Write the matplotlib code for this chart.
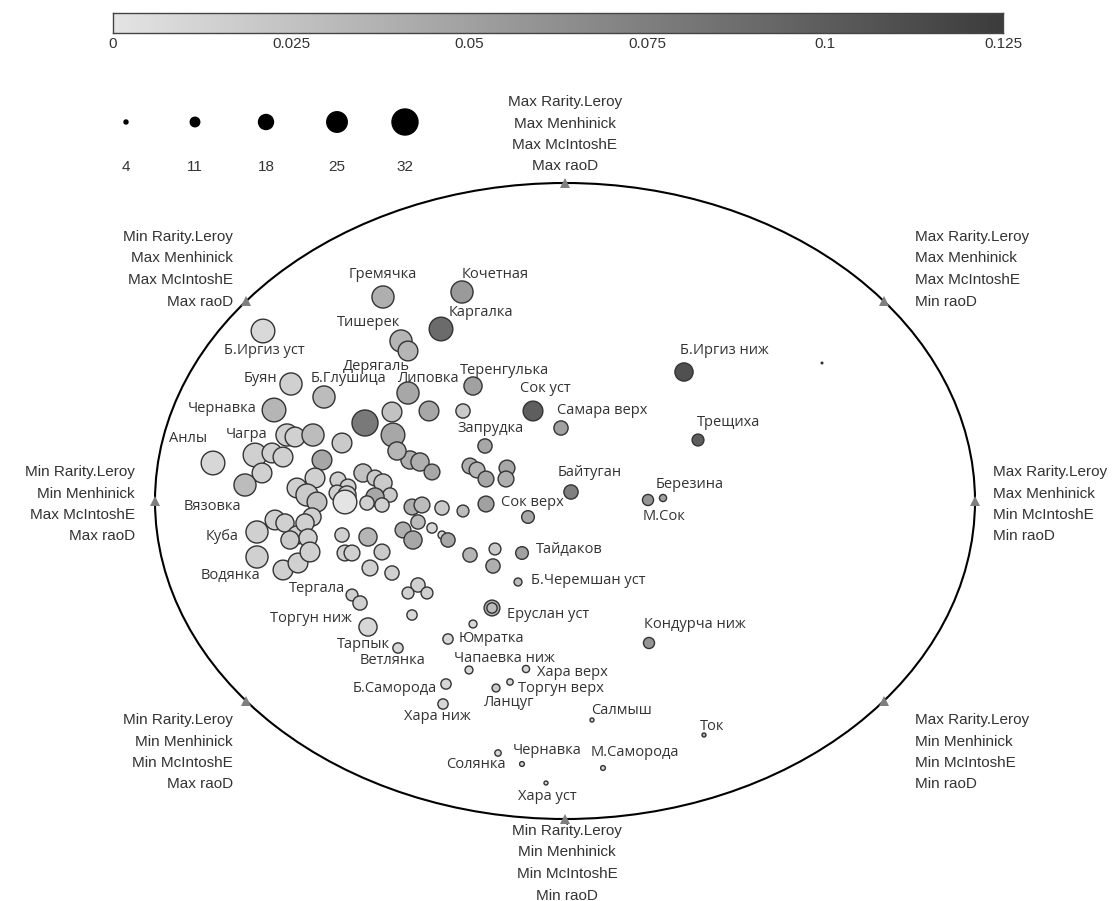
import numpy as np
import matplotlib
matplotlib.use("Agg")
import matplotlib.pyplot as plt
from matplotlib.patches import Ellipse
from matplotlib.colors import LinearSegmentedColormap, Normalize

# ---- data (page-like units: x right, y down) ----
# site points: x, y, species count (size), rarity value (colour)
pt_x = [383, 462, 441, 401, 408, 263, 291, 324, 408, 429, 392, 365, 393, 274, 473,
        463, 533, 561, 485, 698, 684, 822, 571, 648, 663, 486, 528, 522, 495, 493,
        470, 518, 492, 492, 470, 477, 486, 507, 506, 463, 442, 412, 422, 403, 418,
        432, 442, 448, 410, 420, 432, 397, 287, 295, 313, 342, 255, 272, 283, 322,
        262, 245, 315, 297, 307, 317, 312, 338, 348, 337, 347, 345, 363, 375, 383,
        390, 375, 367, 382, 257, 275, 285, 297, 305, 308, 290, 257, 283, 298, 310,
        342, 345, 352, 368, 382, 370, 392, 413, 418, 408, 427, 352, 360, 368, 398,
        412, 448, 473, 469, 446, 443, 496, 510, 526, 649, 592, 704, 498, 522, 603,
        546, 213]
pt_y = [297, 292, 329, 341, 351, 331, 384, 397, 393, 411, 412, 423, 435, 410, 386,
        411, 411, 428, 446, 440, 372, 363, 492, 500, 498, 504, 517, 553, 549, 566,
        555, 582, 608, 608, 466, 470, 479, 468, 479, 511, 508, 507, 505, 530, 522,
        528, 535, 540, 460, 462, 472, 451, 435, 437, 435, 443, 455, 453, 457, 460,
        473, 485, 478, 488, 495, 502, 517, 480, 487, 493, 495, 502, 473, 478, 483,
        495, 497, 503, 505, 532, 520, 523, 535, 523, 538, 540, 557, 570, 563, 552,
        535, 553, 553, 537, 552, 568, 573, 540, 585, 593, 593, 595, 603, 627, 648,
        615, 639, 624, 670, 684, 704, 688, 682, 669, 643, 720, 735, 753, 764, 768,
        783, 463]
pt_n = [27, 27, 29, 27, 24, 29, 27, 27, 27, 24, 24, 32, 29, 29, 22,
        17, 24, 17, 17, 14, 22, 1, 17, 13, 8, 19, 15, 15, 14, 17,
        17, 9, 19, 12, 19, 19, 19, 19, 19, 14, 17, 19, 19, 19, 17,
        12, 9, 17, 22, 22, 19, 22, 27, 24, 27, 24, 29, 24, 24, 24,
        24, 27, 24, 24, 27, 24, 22, 19, 19, 19, 22, 29, 22, 19, 22,
        17, 22, 17, 17, 27, 24, 22, 22, 22, 22, 22, 27, 24, 24, 24,
        17, 19, 19, 22, 19, 19, 17, 22, 17, 14, 14, 14, 17, 22, 12,
        12, 12, 9, 9, 12, 12, 9, 7, 8, 13, 4, 4, 7, 5, 5,
        4, 29]
pt_v = [0.040, 0.055, 0.090, 0.035, 0.035, 0.008, 0.015, 0.030, 0.045, 0.045, 0.025, 0.080, 0.045, 0.035, 0.050,
        0.020, 0.100, 0.050, 0.045, 0.100, 0.110, 0.100, 0.075, 0.060, 0.050, 0.050, 0.045, 0.050, 0.020, 0.040,
        0.035, 0.030, 0.040, 0.030, 0.040, 0.035, 0.045, 0.045, 0.040, 0.030, 0.020, 0.040, 0.030, 0.040, 0.030,
        0.010, 0.010, 0.045, 0.040, 0.040, 0.045, 0.035, 0.015, 0.015, 0.030, 0.020, 0.015, 0.015, 0.015, 0.045,
        0.015, 0.030, 0.015, 0.015, 0.020, 0.025, 0.015, 0.015, 0.015, 0.015, 0.015, 0.000, 0.025, 0.020, 0.020,
        0.020, 0.045, 0.015, 0.015, 0.015, 0.015, 0.015, 0.015, 0.015, 0.015, 0.020, 0.015, 0.015, 0.015, 0.015,
        0.015, 0.015, 0.015, 0.035, 0.020, 0.015, 0.015, 0.045, 0.015, 0.015, 0.015, 0.015, 0.015, 0.010, 0.010,
        0.010, 0.010, 0.010, 0.010, 0.010, 0.010, 0.020, 0.010, 0.010, 0.060, 0.010, 0.040, 0.010, 0.010, 0.010,
        0.010, 0.010]

# site names and where their labels sit
site_names = ["Гремячка", "Кочетная", "Каргалка", "Тишерек", "Б.Иргиз уст", "Буян",
              "Б.Глушица", "Дерягаль", "Липовка", "Теренгулька", "Сок уст",
              "Самара верх", "Запрудка", "Байтуган", "Березина", "М.Сок", "Сок верх",
              "Тайдаков", "Б.Черемшан уст", "Еруслан уст", "Кондурча ниж", "Юмратка",
              "Чапаевка ниж", "Хара верх", "Торгун верх", "Ланцуг", "Салмыш", "Ток",
              "Чернавка", "Солянка", "М.Саморода", "Хара уст", "Хара ниж", "Б.Саморода",
              "Ветлянка", "Тарпык", "Торгун ниж", "Тергала", "Водянка", "Куба",
              "Вязовка", "Анлы", "Чагра", "Чернавка", "Б.Иргиз ниж", "Трещиха"]
label_x = [383, 495, 481, 369, 264, 260, 349, 376, 428, 505, 545, 602, 491, 590, 690,
           664, 532, 569, 588, 548, 695, 491, 504, 572, 561, 508, 622, 712, 547, 476,
           635, 547, 437, 395, 393, 363, 311, 317, 230, 222, 212, 188, 247, 222, 724, 729]
label_y = [275, 274, 312, 323, 350, 378, 378, 366, 378, 370, 389, 410, 429, 473, 484,
           517, 502, 549, 580, 615, 625, 638, 658, 673, 688, 702, 710, 726, 751, 764,
           753, 797, 717, 689, 661, 645, 619, 589, 575, 536, 507, 439, 435, 408, 350, 422]

# colour scale
cbar_ticks = [0, 0.025, 0.05, 0.075, 0.1, 0.125]
cbar_labels = ["0", "0.025", "0.05", "0.075", "0.1", "0.125"]

# size legend
legend_n = [4, 11, 18, 25, 32]
legend_x = [126, 195, 266, 337, 405]

# biplot axis ends: angle on the ellipse and the four texts
axis_angles = [90, 39, 0, -39, -90, -141, 180, 141]
axis_text = [
    ["Max Rarity.Leroy", "Max Menhinick", "Max McIntoshE", "Max raoD"],
    ["Max Rarity.Leroy", "Max Menhinick", "Max McIntoshE", "Min raoD"],
    ["Max Rarity.Leroy", "Max Menhinick", "Min McIntoshE", "Min raoD"],
    ["Max Rarity.Leroy", "Min Menhinick", "Min McIntoshE", "Min raoD"],
    ["Min Rarity.Leroy", "Min Menhinick", "Min McIntoshE", "Min raoD"],
    ["Min Rarity.Leroy", "Min Menhinick", "Min McIntoshE", "Max raoD"],
    ["Min Rarity.Leroy", "Min Menhinick", "Max McIntoshE", "Max raoD"],
    ["Min Rarity.Leroy", "Max Menhinick", "Max McIntoshE", "Max raoD"],
]
axis_text_pos = [(565, 102, "center"), (915, 237, "left"), (993, 472, "left"),
                 (915, 720, "left"), (567, 831, "center"), (233, 720, "right"),
                 (135, 472, "right"), (233, 237, "right")]

# ---- helpers ----
def n_to_area(n):
    d_px = 0.786 * np.asarray(n, dtype=float) + 0.86
    return (d_px * 72 / 100) ** 2

grey = LinearSegmentedColormap.from_list("grey", ["#e4e4e4", "#3c3c3c"])
norm = Normalize(0, 0.125)

plt.rcParams['font.family'] = ['Liberation Sans', 'DejaVu Sans']

fig = plt.figure(figsize=(11.2, 9.01), dpi=100)
ax = fig.add_axes([0, 0, 1, 1])
ax.set_xlim(0, 1120)
ax.set_ylim(901, 0)
ax.axis("off")

# ellipse and axis markers
cx, cy, a, b = 565, 501, 410, 318
ax.add_patch(Ellipse((cx, cy), 2 * a, 2 * b, fill=False, ec="black", lw=1.5, zorder=1))
ang = np.radians(axis_angles)
ax.plot(cx + a * np.cos(ang), cy - b * np.sin(ang), "^", color="#7f7f7f",
        markersize=7, markeredgewidth=0, linestyle="none", zorder=2)

for lines, (tx, ty, ha) in zip(axis_text, axis_text_pos):
    for i, line in enumerate(lines):
        ax.text(tx, ty + i * 21.5, line, ha=ha, va="center", fontsize=11, color="#333333")

# sites
ax.scatter(pt_x, pt_y, s=n_to_area(pt_n), c=pt_v, cmap=grey, norm=norm,
           edgecolors="#333333", linewidths=1.0, zorder=3)

for name, lx, ly in zip(site_names, label_x, label_y):
    ax.text(lx, ly, name, ha="center", va="center", fontsize=10.5,
            family=["Open Sans", "DejaVu Sans"], color="#333333", zorder=4)

# size legend
ax.scatter(legend_x, [122] * len(legend_x), s=n_to_area(legend_n), color="black", zorder=3)
for lx, n in zip(legend_x, legend_n):
    ax.text(lx, 167, str(n), ha="center", va="center", fontsize=11, color="#333333")

# colour bar
cax = fig.add_axes([113 / 1120, 1 - 33 / 901, 890 / 1120, 20 / 901])
grad = np.linspace(0, 0.125, 256).reshape(1, -1)
cax.imshow(grad, aspect="auto", cmap=grey, norm=norm, extent=[0, 0.125, 0, 1])
cax.set_yticks([])
cax.set_xticks(cbar_ticks)
cax.set_xticklabels(cbar_labels, fontsize=11, color="#333333",
                    family=["Liberation Sans Narrow", "Liberation Sans"])
cax.tick_params(axis="x", length=0, pad=3)
for sp in cax.spines.values():
    sp.set_color("#444444")
    sp.set_linewidth(1)

fig.savefig("out.png", dpi=100)
